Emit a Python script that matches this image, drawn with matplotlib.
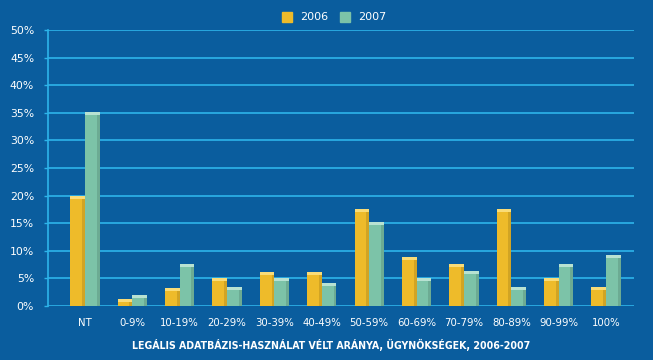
import matplotlib
matplotlib.use("Agg")
import matplotlib.pyplot as plt
import numpy as np
from matplotlib.patches import Rectangle

categories = ["NT", "0-9%", "10-19%", "20-29%", "30-39%", "40-49%", "50-59%",
              "60-69%", "70-79%", "80-89%", "90-99%", "100%"]
values_2006 = [20.0, 1.3, 3.3, 5.0, 6.1, 6.1, 17.5, 8.9, 7.6, 17.5, 5.1, 3.4]
values_2007 = [35.1, 2.0, 7.6, 3.4, 5.0, 4.2, 15.2, 5.1, 6.3, 3.4, 7.6, 9.3]
series_names = ["2006", "2007"]
yticks = [0, 5, 10, 15, 20, 25, 30, 35, 40, 45, 50]
title = "LEGÁLIS ADATBÁZIS-HASZNÁLAT VÉLT ARÁNYA, ÜGYNÖKSÉGEK, 2006-2007"

BG = "#0a5d9e"
GRID = "#2db4ea"
C06 = "#eebb2a"
C07 = "#7cc3a8"
C06_top = "#f9dc78"
C07_top = "#b8e2d2"

plt.rcParams['font.family'] = ['DejaVu Sans']
fig = plt.figure(figsize=(6.53, 3.6), dpi=100, facecolor=BG)
ax = fig.add_axes([48/653, 54/360, (634-48)/653, (306-30)/360], facecolor=BG)

x = np.arange(len(categories))
w = 0.31
b1 = ax.bar(x - w/2, values_2006, width=w, color=C06, zorder=3, linewidth=0)
b2 = ax.bar(x + w/2, values_2007, width=w, color=C07, zorder=3, linewidth=0)
# bevel top caps and shading
for bars, topc in ((b1, C06_top), (b2, C07_top)):
    for r in bars:
        h = r.get_height()
        ax.add_patch(Rectangle((r.get_x(), h - 0.55), r.get_width(), 0.55,
                               color=topc, zorder=4, linewidth=0))
        ax.add_patch(Rectangle((r.get_x() + r.get_width()*0.8, 0), r.get_width()*0.2, h - 0.55,
                               color="black", alpha=0.12, zorder=4, linewidth=0))

ax.set_xlim(-0.78, 11.59)
ax.set_ylim(0, 50)
ax.set_yticks(yticks)
ax.set_yticklabels([f"{t}%" for t in yticks])
ax.yaxis.grid(True, color=GRID, linewidth=1.2, zorder=1)
ax.set_axisbelow(True)
ax.set_xticks(x)
ax.set_xticklabels(categories)
for s in ["top", "right", "bottom"]:
    ax.spines[s].set_visible(False)
ax.spines["left"].set_color(GRID)
ax.spines["left"].set_linewidth(1.2)
ax.tick_params(axis="y", colors=GRID, labelcolor="white", labelsize=7.8, length=3, width=1, pad=7)
ax.tick_params(axis="x", length=0, labelcolor="white", labelsize=7.3, pad=9)

# legend
fig.patches.append(Rectangle((282/653, 1-22/360), 10/653, 10/360, transform=fig.transFigure,
                             color=C06, figure=fig))
fig.text(300/653, 1-17/360, series_names[0], color="white", fontsize=8, va="center")
fig.patches.append(Rectangle((340/653, 1-22/360), 10/653, 10/360, transform=fig.transFigure,
                             color=C07, figure=fig))
fig.text(358/653, 1-17/360, series_names[1], color="white", fontsize=8, va="center")

fig.text(331/653, 1-345/360, title, color="white", fontsize=7.6, fontweight="bold",
         fontstretch="condensed", ha="center", va="center")

fig.savefig("out.png", dpi=100, facecolor=BG)
